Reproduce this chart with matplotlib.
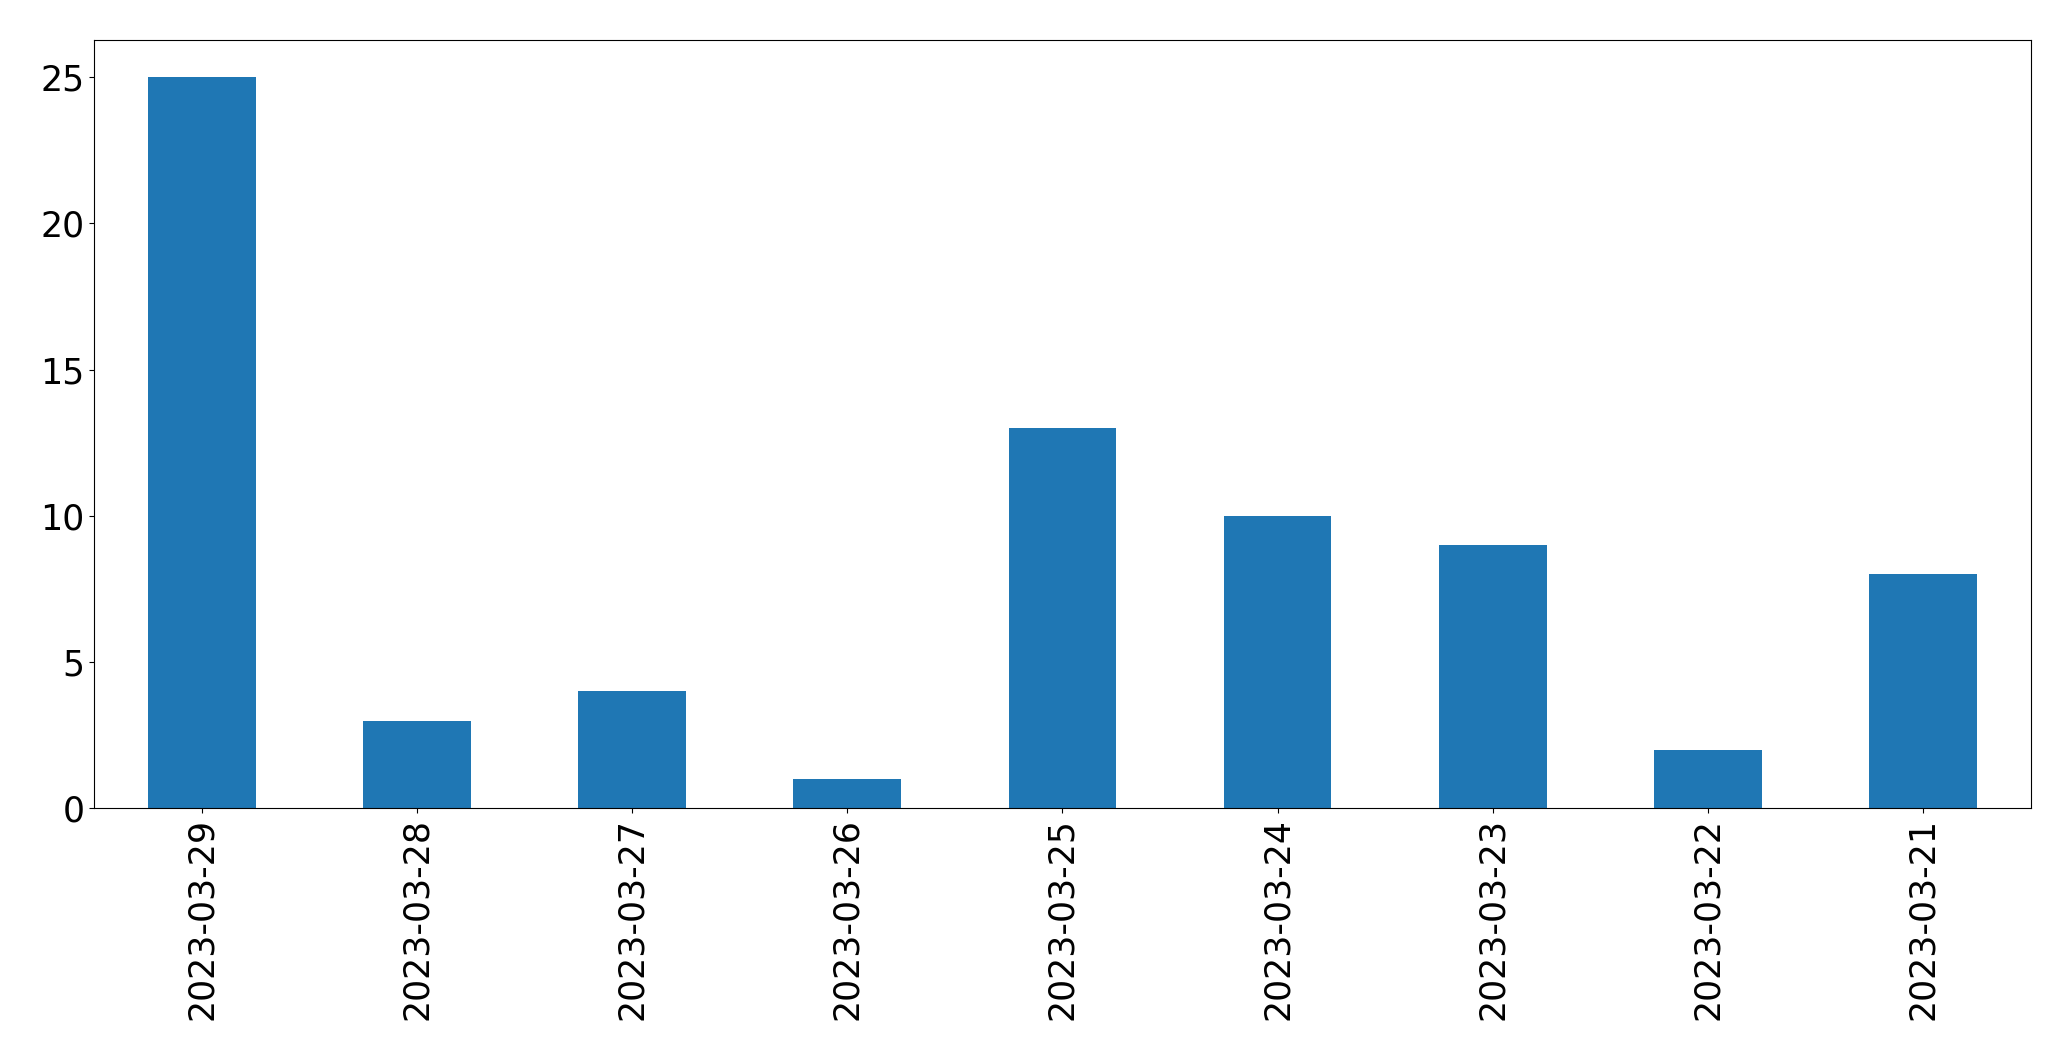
import matplotlib
matplotlib.use('Agg')
import matplotlib.pyplot as plt
import pandas as pd

# даты и количество за каждый день
dates = ['2023-03-29', '2023-03-28', '2023-03-27', '2023-03-26', '2023-03-25',
         '2023-03-24', '2023-03-23', '2023-03-22', '2023-03-21']
counts = [25, 3, 4, 1, 13, 10, 9, 2, 8]

s = pd.Series(counts, index=dates)

fig = plt.figure(figsize=(20.71, 10.61), dpi=100)
ax = fig.add_subplot(111)
s.plot(kind='bar', ax=ax, color='#1f77b4', fontsize=25)
ax.set_xlabel('')
fig.subplots_adjust(left=0.0455, right=0.9805, top=0.962, bottom=0.238)
fig.savefig('out.png', dpi=100)
